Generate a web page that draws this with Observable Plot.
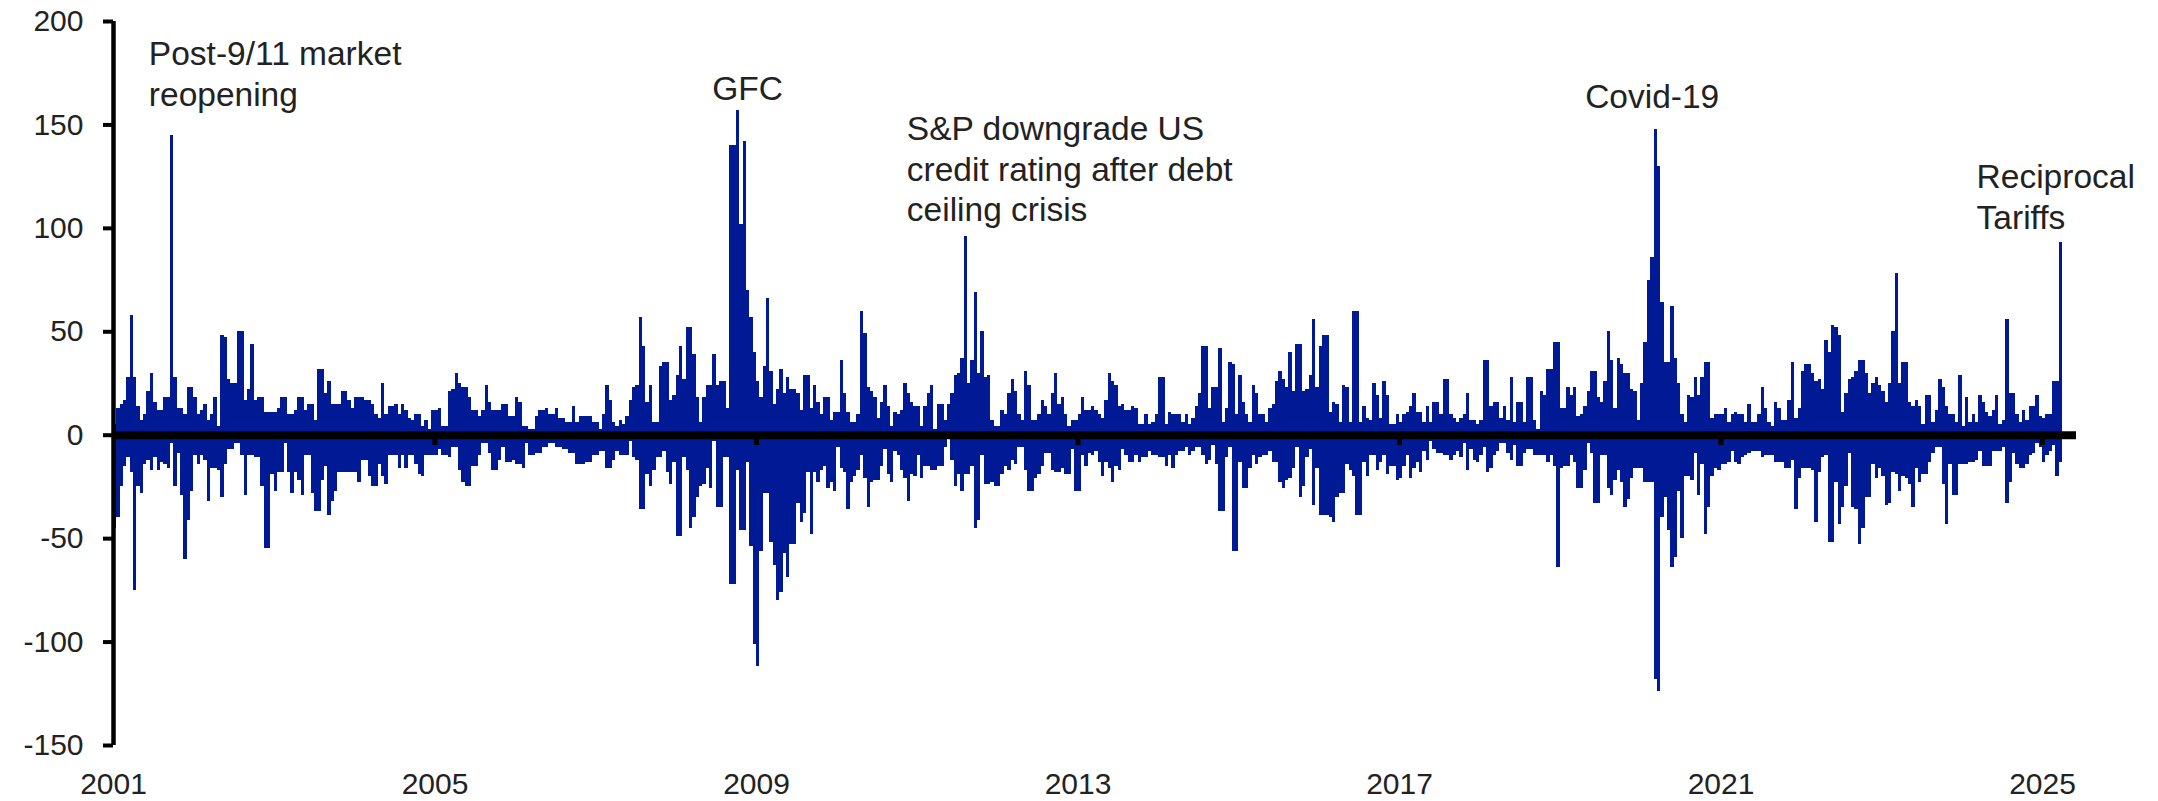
<!DOCTYPE html>
<html>
<head>
<meta charset="utf-8">
<script src="https://cdn.jsdelivr.net/npm/d3@7"></script>
<script src="https://cdn.jsdelivr.net/npm/@observablehq/plot@0.6"></script>
<style>
  html, body { margin: 0; padding: 0; background: #fff; }
  #chart svg { display: block; }
</style>
</head>
<body>
<div id="chart"></div>
<script>
// Half-month bins starting January 2001 (24 bins per year)
const startYear = 2001;
const binsPerYear = 24;

// Largest up-move in each half-month bin
const upMoves = [
  5,13,15,17,28,58,28,14,7,10,21,30,16,12,12,18,18,145,28,13,13,10,23,23,
  18,10,12,15,7,10,18,4,48,47,27,25,25,50,50,17,22,44,17,18,18,11,11,11,
  11,13,18,18,10,10,12,18,18,12,15,15,7,32,32,20,26,15,15,15,21,21,17,13,
  18,18,18,17,17,15,10,8,25,10,14,14,15,10,15,12,8,7,10,10,4,7,3,12,
  12,13,4,4,21,22,30,25,23,23,18,12,12,9,12,24,16,12,12,12,15,15,9,9,
  18,16,4,4,3,3,9,12,12,13,10,10,13,8,8,6,6,14,6,9,9,9,9,6,
  6,3,10,24,17,6,4,7,5,9,17,23,24,57,43,16,24,6,6,33,35,35,17,19,
  29,43,27,52,52,39,18,6,18,24,24,39,24,26,26,13,140,140,157,102,142,70,57,40,
  26,18,33,66,31,15,22,32,20,28,22,22,20,12,29,29,13,24,16,10,18,18,7,11,
  11,36,20,11,6,6,10,60,49,23,21,18,8,16,24,14,4,11,10,12,25,20,16,14,
  14,4,14,20,24,3,15,15,7,15,20,29,30,37,96,25,36,69,30,50,28,29,7,4,
  4,12,10,20,27,21,10,7,31,24,7,7,10,17,14,10,20,30,15,18,10,4,7,7,
  10,18,12,12,14,12,10,8,17,30,26,24,14,15,12,12,14,13,5,5,10,5,6,10,
  28,28,5,11,10,10,10,6,10,5,8,14,20,43,43,13,23,23,42,6,13,35,34,10,
  29,16,10,6,24,20,10,10,6,13,15,26,31,27,23,40,21,44,44,21,22,29,56,23,
  43,48,48,11,16,15,6,24,23,6,60,60,6,14,8,7,25,19,8,26,19,5,5,10,
  6,10,11,14,20,11,11,6,14,6,16,16,10,27,27,10,8,6,8,10,20,7,7,5,
  7,36,36,14,16,16,8,14,7,28,6,16,16,6,28,28,7,3,21,19,32,32,45,45,
  13,13,23,19,23,9,10,14,21,31,31,18,16,26,50,36,13,37,34,30,30,22,21,7,
  25,45,75,86,148,130,64,35,35,62,37,25,10,6,19,18,28,19,28,35,35,8,10,10,
  10,13,6,10,11,10,10,6,15,6,6,10,23,13,6,4,16,13,7,7,17,35,8,13,
  31,34,34,30,26,27,22,46,40,53,52,48,11,20,27,28,31,36,36,30,20,25,28,24,
  21,16,25,50,78,25,35,35,16,14,17,14,5,19,19,6,12,27,23,14,10,10,6,29,
  4,18,6,10,6,19,16,11,9,12,19,5,7,56,20,20,10,6,12,7,14,14,19,9,
  8,10,10,26,26,93
];

// Largest down-move in each half-month bin
const downMoves = [
  -45,-40,-25,-15,-11,-18,-75,-25,-28,-14,-12,-17,-11,-17,-13,-14,-16,-4,-25,-9,-29,-60,-41,-27,
  -10,-14,-10,-12,-32,-16,-16,-17,-30,-14,-7,-7,-4,-4,-10,-29,-10,-10,-11,-11,-25,-55,-55,-19,
  -27,-18,-18,-4,-18,-28,-18,-22,-29,-10,-10,-28,-37,-37,-22,-15,-39,-32,-27,-18,-18,-18,-18,-18,
  -18,-23,-12,-12,-20,-25,-25,-14,-20,-24,-10,-10,-10,-16,-10,-16,-10,-10,-14,-19,-20,-10,-10,-10,
  -10,-7,-10,-10,-11,-6,-6,-17,-23,-25,-25,-15,-15,-10,-4,-4,-9,-17,-17,-12,-6,-13,-13,-12,
  -14,-14,-16,-4,-10,-10,-9,-9,-6,-6,-4,-4,-6,-6,-7,-7,-9,-9,-14,-14,-14,-13,-13,-10,
  -10,-8,-8,-16,-16,-12,-8,-10,-10,-10,-3,-11,-12,-36,-36,-19,-25,-17,-11,-11,-8,-18,-24,-13,
  -49,-49,-11,-17,-45,-40,-30,-25,-24,-16,-26,-3,-35,-35,-11,-11,-72,-72,-17,-46,-46,-13,-54,-101,
  -112,-56,-28,-28,-52,-63,-80,-76,-57,-69,-53,-53,-33,-42,-38,-18,-48,-18,-23,-17,-15,-26,-23,-27,
  -6,-16,-18,-36,-23,-20,-17,-10,-21,-35,-23,-22,-22,-15,-7,-19,-23,-8,-10,-17,-21,-32,-19,-20,
  -10,-21,-15,-15,-17,-17,-15,-15,-6,-2,-12,-25,-19,-27,-19,-19,-15,-45,-41,-10,-24,-24,-23,-25,
  -25,-19,-15,-17,-12,-14,-6,-6,-17,-27,-27,-21,-19,-15,-9,-9,-17,-18,-18,-16,-19,-19,-7,-27,
  -27,-10,-15,-9,-10,-8,-13,-20,-13,-16,-23,-15,-17,-7,-10,-13,-13,-10,-13,-11,-11,-8,-10,-10,
  -11,-11,-15,-10,-16,-10,-8,-8,-6,-10,-8,-6,-6,-10,-14,-12,-5,-14,-37,-37,-11,-6,-56,-56,
  -13,-26,-26,-16,-10,-14,-11,-10,-10,-8,-13,-13,-23,-26,-22,-21,-16,-6,-30,-25,-11,-7,-34,-16,
  -39,-39,-39,-40,-42,-30,-28,-28,-14,-17,-20,-39,-39,-13,-20,-10,-10,-17,-13,-10,-19,-15,-15,-22,
  -21,-15,-10,-21,-16,-13,-18,-8,-12,-3,-7,-9,-9,-10,-10,-12,-10,-8,-11,-4,-17,-7,-12,-13,
  -10,-6,-18,-16,-10,-8,-4,-4,-9,-12,-5,-15,-15,-9,-7,-7,-10,-10,-10,-10,-13,-10,-15,-64,
  -16,-15,-15,-10,-13,-26,-26,-17,-4,-9,-33,-33,-10,-10,-26,-29,-22,-17,-23,-35,-31,-21,-16,-16,
  -16,-23,-23,-23,-118,-124,-40,-30,-46,-64,-59,-27,-50,-20,-20,-22,-9,-29,-14,-48,-35,-20,-16,-17,
  -14,-14,-13,-8,-13,-14,-11,-10,-9,-8,-8,-8,-11,-10,-10,-10,-13,-13,-13,-16,-16,-12,-36,-21,
  -16,-16,-16,-17,-42,-18,-11,-10,-52,-52,-23,-43,-35,-25,-9,-35,-36,-53,-45,-30,-30,-14,-21,-16,
  -20,-34,-33,-18,-19,-27,-20,-21,-24,-35,-16,-23,-19,-19,-13,-9,-6,-6,-24,-43,-14,-29,-29,-14,
  -14,-14,-13,-13,-12,-8,-15,-15,-15,-8,-8,-8,-6,-33,-23,-9,-14,-16,-16,-14,-10,-9,-4,-6,
  -13,-10,-8,-5,-20,-13
];

const yTicks = [-150, -100, -50, 0, 50, 100, 150, 200];
const xTicks = [2001, 2005, 2009, 2013, 2017, 2021, 2025];

const eventLabels = [
  {text: "Post-9/11 market\nreopening", x: 2001.44, y: 192.8},
  {text: "GFC", x: 2008.45, y: 176.2},
  {text: "S&P downgrade US\ncredit rating after debt\nceiling crisis", x: 2010.87, y: 156.9},
  {text: "Covid-19", x: 2019.31, y: 172.2},
  {text: "Reciprocal\nTariffs", x: 2024.18, y: 133.6}
];

const bars = [];
upMoves.forEach((v, k) => bars.push({x1: startYear + k / binsPerYear, x2: startYear + (k + 1) / binsPerYear, v}));
downMoves.forEach((v, k) => bars.push({x1: startYear + k / binsPerYear, x2: startYear + (k + 1) / binsPerYear, v}));

const fontFamily = "Arial, 'Liberation Sans', Helvetica, sans-serif";

const chart = Plot.plot({
  width: 2158,
  height: 801,
  marginTop: 21,
  marginBottom: 56,
  marginLeft: 113,
  marginRight: 82,
  x: {type: "linear", domain: [2001, 2025.423], axis: null},
  y: {type: "linear", domain: [-150, 200], axis: null},
  style: {fontFamily, fontSize: "30px", color: "#000", background: "#fff", overflow: "visible"},
  marks: [
    Plot.rect(bars, {x1: "x1", x2: "x2", y1: 0, y2: "v", fill: "#001a96", shapeRendering: "crispEdges"}),
    Plot.ruleY([0], {stroke: "#000", strokeWidth: 8}),
    Plot.ruleX(xTicks.slice(1), {y1: 0, y2: -5, stroke: "#000", strokeWidth: 5}),
    Plot.ruleX([2001], {y1: -150, y2: 200, stroke: "#000", strokeWidth: 4.5}),
    Plot.axisY({ticks: yTicks, tickSize: 10, tickPadding: 20, strokeWidth: 4, tickFormat: d => String(d), fontSize: 30, fill: "#222", stroke: "#000"}),
    Plot.axisX({ticks: xTicks, tickSize: 0, tickPadding: 27, tickFormat: d => String(d), fontSize: 30, fill: "#222"}),
    Plot.text(eventLabels, {x: "x", y: "y", text: "text", textAnchor: "start", lineAnchor: "top", lineHeight: 1.22, fontSize: 33.5, fill: "#222"})
  ]
});

document.getElementById("chart").appendChild(chart);
</script>
</body>
</html>
